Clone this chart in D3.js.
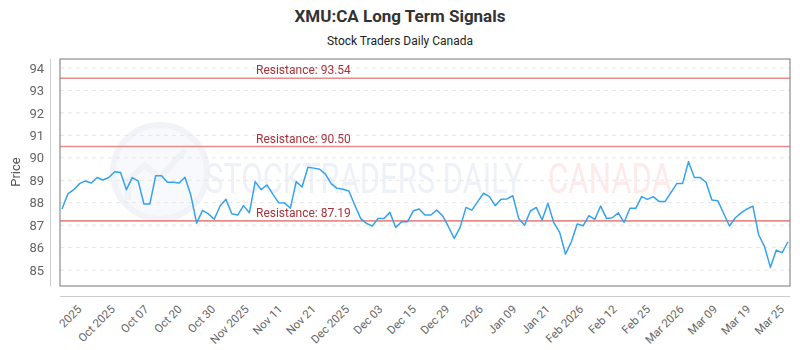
<!DOCTYPE html>
<html><head><meta charset="utf-8">
<script src="https://cdn.jsdelivr.net/npm/d3@7/dist/d3.min.js"></script>
<style>
body{margin:0;background:#fff;}
svg{display:block;font-family:Roboto,"Noto Sans",sans-serif;}
</style></head>
<body><svg id="c" width="800" height="350"></svg>
<script>
// ---- data ----
const closes = [87.72,88.39,88.58,88.85,88.97,88.88,89.12,89.01,89.12,89.38,
89.34,88.58,89.12,88.97,87.94,87.94,89.20,89.20,88.91,88.91,
88.88,89.13,88.34,87.09,87.66,87.50,87.26,87.85,88.15,87.51,
87.45,87.87,87.55,88.94,88.58,88.79,88.38,88.00,87.99,87.75,
88.94,88.70,89.58,89.54,89.49,89.27,88.84,88.64,88.60,88.52,
87.90,87.30,87.08,86.96,87.30,87.30,87.57,86.90,87.15,87.15,
87.64,87.72,87.45,87.45,87.67,87.42,86.93,86.41,86.90,87.79,
87.67,88.05,88.42,88.27,87.87,88.15,88.17,88.31,87.30,87.00,
87.63,87.79,87.23,87.97,87.11,86.68,85.71,86.26,87.05,86.97,
87.42,87.26,87.85,87.30,87.33,87.55,87.12,87.75,87.75,88.27,
88.15,88.27,88.05,88.05,88.45,88.85,88.85,89.83,89.12,89.12,
88.91,88.12,88.09,87.53,86.96,87.33,87.55,87.72,87.85,86.56,
86.04,85.12,85.89,85.77,86.26];
const tickLabels = ["2025","Oct 2025","Oct 07","Oct 20","Oct 30","Nov 2025","Nov 11","Nov 21",
"Dec 2025","Dec 03","Dec 15","Dec 29","2026","Jan 09","Jan 21","Feb 2026","Feb 12","Feb 25",
"Mar 2026","Mar 09","Mar 19","Mar 25"];
const firstTickIndex = 2.7, lastTickIndex = 122.7;
const yTicks = [85,86,87,88,89,90,91,92,93,94];
const resistanceLevels = [93.54, 90.50, 87.19];
const yDomain = [84.29, 94.4];

// ---- layout ----
const svg = d3.select("#c");
const L = 60, R = 790, T = 59, B = 286;

const x = d3.scaleLinear().domain([0, closes.length - 1]).range([L + 2, R - 2]);
const y = d3.scaleLinear().domain(yDomain).range([B, T]);

// title
svg.append("text").attr("x", 400).attr("y", 22).attr("text-anchor", "middle")
  .attr("font-size", 17).attr("font-weight", 700).attr("fill", "#333")
  .text("XMU:CA Long Term Signals");
svg.append("text").attr("x", 400).attr("y", 45).attr("text-anchor", "middle")
  .attr("font-size", 12).attr("fill", "#222").text("Stock Traders Daily Canada");

// watermark
const wm = svg.append("g").attr("opacity", 0.5);
wm.append("circle").attr("cx", 160).attr("cy", 172).attr("r", 47)
  .attr("fill", "#f1f3f8").attr("stroke", "#e3e7f0").attr("stroke-width", 6);
wm.append("path").attr("d", "M128,200 L128,180 L145,165 L160,178 L185,150")
  .attr("fill", "none").attr("stroke", "#dfe4ee").attr("stroke-width", 6);
function squeezeText(str, x0, width, color) {
  const t = wm.append("text").attr("x", 0).attr("y", 0).attr("font-size", 42)
    .attr("fill", color).text(str);
  const w = t.node().getComputedTextLength();
  t.attr("transform", `translate(${x0},193) scale(${width / w},1)`);
}
squeezeText("STOCKTRADERS DAILY", 205, 318, "#dde3ee");
squeezeText("CANADA", 548, 124, "#fad6d6");

// grid
svg.append("g").selectAll("line").data(yTicks).join("line")
  .attr("x1", L).attr("x2", R).attr("y1", d => y(d)).attr("y2", d => y(d))
  .attr("stroke", "#e6e6e6").attr("stroke-dasharray", "4,4");

// resistance lines
svg.append("g").selectAll("line").data(resistanceLevels).join("line")
  .attr("x1", L).attr("x2", R).attr("y1", d => y(d)).attr("y2", d => y(d))
  .attr("stroke", "#e98b8b").attr("stroke-width", 1.6);
svg.append("g").selectAll("text").data(resistanceLevels).join("text")
  .attr("x", 256).attr("y", d => y(d) - 4).attr("font-size", 12).attr("fill", "#a8323a")
  .text(d => "Resistance: " + d.toFixed(2));

// price line
svg.append("path").datum(closes)
  .attr("d", d3.line().x((d, i) => x(i)).y(d => y(d)))
  .attr("fill", "none").attr("stroke", "#36a2eb").attr("stroke-width", 1.5)
  .attr("stroke-linejoin", "round");

// frame
svg.append("rect").attr("x", L).attr("y", T).attr("width", R - L).attr("height", B - T)
  .attr("fill", "none").attr("stroke", "#777").attr("stroke-width", 1);

// y axis (offset)
const yAxis = d3.axisLeft(y).tickValues(yTicks).tickSize(0).tickPadding(6);
const gy = svg.append("g").attr("transform", "translate(50,0)").call(yAxis);
gy.select(".domain").attr("stroke", "#ccc").attr("d", `M0.5,${T}V${B}`);
gy.selectAll("text").attr("font-size", 13).attr("fill", "#666").attr("font-family", "Roboto");

svg.append("text").attr("transform", `translate(20,172) rotate(-90)`)
  .attr("text-anchor", "middle").attr("font-size", 13).attr("fill", "#555").text("Price");

// x axis (offset)
const step = (lastTickIndex - firstTickIndex) / (tickLabels.length - 1);
const tickIdx = tickLabels.map((_, i) => firstTickIndex + i * step);
const xAxis = d3.axisBottom(x).tickValues(tickIdx).tickFormat((d, i) => tickLabels[i]).tickSize(0).tickPadding(0);
const gx = svg.append("g").attr("transform", "translate(0,296)").call(xAxis);
gx.select(".domain").attr("stroke", "#ccc").attr("d", `M${L},0.5H${R}`);
gx.selectAll("text").attr("font-size", 11.5).attr("fill", "#666").attr("font-family", "Roboto")
  .attr("text-anchor", "end").attr("dy", null).attr("y", 0)
  .attr("transform", "translate(4,14) rotate(-45)");
</script></body></html>
